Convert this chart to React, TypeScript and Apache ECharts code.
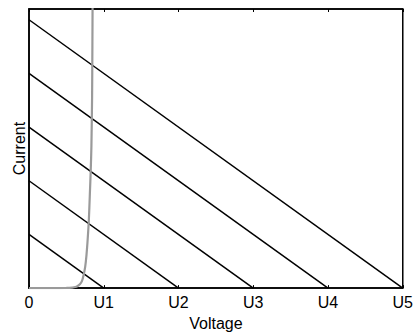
import React, { useEffect, useRef } from "react";
import * as echarts from "echarts";

const xTickLabels = ["0", "U1", "U2", "U3", "U4", "U5"];
const loadIntercepts = [1, 2, 3, 4, 5];
const diodeCurve: [number, number][] = [
  [0, 0], [0.3, 0], [0.5, 0.003], [0.58, 0.01], [0.62, 0.02], [0.646, 0.035],
  [0.68, 0.07], [0.708, 0.13], [0.73, 0.24], [0.752, 0.4], [0.768, 0.6],
  [0.782, 0.85], [0.8, 1.25], [0.814, 1.75], [0.826, 2.2], [0.835, 2.65],
  [0.844, 3.56], [0.848, 4.5], [0.851, 5.4],
];

export default function App() {
  const ref = useRef<HTMLDivElement>(null);
  useEffect(() => {
    const chart = echarts.init(ref.current!, null, { renderer: "svg" });
    const font = "Liberation Sans, Arial, Helvetica, sans-serif";
    const loadSeries = loadIntercepts.map((k) => ({
      type: "line",
      data: [[0, k], [k, 0]],
      symbol: "none",
      lineStyle: { color: "#000", width: 1.5 },
      xAxisIndex: 0,
    }));
    chart.setOption({
      animation: false,
      grid: {
        left: 29, right: 8, top: 9, bottom: 39,
        show: true, borderColor: "#000", borderWidth: 1.5,
      },
      xAxis: [
        {
          type: "value", min: 0, max: 5, interval: 1, position: "bottom",
          name: "Voltage", nameLocation: "middle", nameGap: 18,
          nameTextStyle: { fontFamily: font, fontSize: 16, color: "#000" },
          axisLine: { show: true, lineStyle: { color: "#000", width: 1.5 } },
          axisTick: { show: true, inside: true, length: 3, lineStyle: { color: "#000" } },
          axisLabel: {
            margin: 6, fontFamily: font, fontSize: 16, color: "#000",
            formatter: (v: number) => xTickLabels[Math.round(v)] ?? "",
          },
          splitLine: { show: false },
        },
        {
          type: "value", min: 0, max: 5, interval: 1, position: "top",
          axisLine: { show: true, lineStyle: { color: "#000", width: 1.5 } },
          axisTick: { show: true, inside: true, length: 3, lineStyle: { color: "#000" } },
          axisLabel: { show: false },
          splitLine: { show: false },
        },
      ],
      yAxis: {
        type: "value", min: 0, max: 5.2,
        name: "Current", nameLocation: "middle", nameGap: 2,
        nameTextStyle: { fontFamily: font, fontSize: 16, color: "#000" },
        axisLine: { show: true, lineStyle: { color: "#000", width: 1.5 } },
        axisTick: { show: false },
        axisLabel: { show: false },
        splitLine: { show: false },
      },
      series: [
        ...loadSeries,
        {
          type: "line",
          data: diodeCurve,
          symbol: "none",
          smooth: 0.2,
          lineStyle: { color: "#9a9a9a", width: 2.2 },
          xAxisIndex: 0,
        },
      ],
    });
    return () => chart.dispose();
  }, []);
  return <div ref={ref} style={{ width: 416, height: 336, position: "absolute", left: 0, top: 0 }} />;
}
